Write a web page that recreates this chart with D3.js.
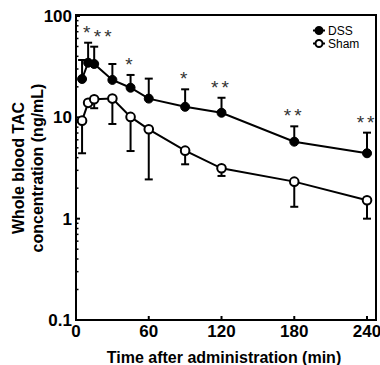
<!DOCTYPE html>
<html>
<head>
<meta charset="utf-8">
<script src="https://cdn.jsdelivr.net/npm/d3@7"></script>
<style>
  html, body { margin: 0; padding: 0; background: #fff; }
  svg { display: block; font-family: "Liberation Sans", Arial, sans-serif; }
</style>
</head>
<body>
<svg id="chart" width="380" height="365"></svg>
<script>
// ---- data ----
const times = [5, 10, 15, 30, 45, 60, 90, 120, 180, 240];
const dssMean = [23.9, 34.6, 33.6, 23.4, 19.6, 15.3, 12.7, 11.1, 5.75, 4.42];
const dssSD   = [12.9, 19.9, 16.2, 10.2, 6.6, 8.8, 6.2, 4.5, 2.4, 2.64];
const shamMean = [9.27, 13.9, 15.1, 15.3, 10.1, 7.62, 4.69, 3.14, 2.32, 1.52];
const shamSD   = [4.85, 0, 2.8, 6.7, 5.45, 5.18, 1.25, 0.5, 1.01, 0.52];
const signif = ["", "*", "**", "", "*", "", "*", "**", "**", "**"];
const xTicks = [0, 60, 120, 180, 240];
const yTicks = [0.1, 1, 10, 100];
const yTickLabels = ["0.1", "1", "10", "100"];
const seriesNames = ["DSS", "Sham"];
const xTitle = "Time after administration (min)";
const yTitle = ["Whole blood TAC", "concentration (ng/mL)"];

// ---- layout ----
const L = 76, R = 376, T = 16, B = 320;
const svg = d3.select("#chart");
const x = d3.scaleLinear().domain([0, 247.4]).range([L, R]);
const y = d3.scaleLog().domain([0.1, 100]).range([B, T]);

const dss = times.map((t, i) => ({ t, m: dssMean[i], sd: dssSD[i], s: signif[i] }));
const sham = times.map((t, i) => ({ t, m: shamMean[i], sd: shamSD[i] }));

// minor y ticks (inside)
const minor = [];
[0.1, 1, 10].forEach(d => { for (let k = 2; k <= 9; k++) minor.push(d * k); });
svg.append("g").selectAll("line").data(minor).join("line")
  .attr("x1", L).attr("x2", L + 2.5)
  .attr("y1", d => y(d)).attr("y2", d => y(d))
  .attr("stroke", "#000").attr("stroke-width", 1.5);

// major y ticks
svg.append("g").selectAll("line").data(yTicks).join("line")
  .attr("x1", L).attr("x2", L + 4)
  .attr("y1", d => y(d)).attr("y2", d => y(d))
  .attr("stroke", "#000").attr("stroke-width", 2);
// x ticks
svg.append("g").selectAll("line").data(xTicks).join("line")
  .attr("x1", d => x(d)).attr("x2", d => x(d))
  .attr("y1", B).attr("y2", B - 4)
  .attr("stroke", "#000").attr("stroke-width", 2);

// frame
svg.append("rect").attr("x", L).attr("y", T - 1).attr("width", R - L).attr("height", B - T + 1)
  .attr("fill", "none").attr("stroke", "#000").attr("stroke-width", 2);

// tick labels
svg.append("g").selectAll("text").data(yTicks).join("text")
  .attr("x", L - 4).attr("y", d => y(d)).attr("dy", "0.36em")
  .attr("text-anchor", "end").attr("font-size", 17).attr("font-weight", "bold")
  .text((d, i) => yTickLabels[i]);
svg.append("g").selectAll("text").data(xTicks).join("text")
  .attr("x", d => x(d)).attr("y", B + 17)
  .attr("text-anchor", "middle").attr("font-size", 17).attr("font-weight", "bold")
  .text(d => d);

// axis titles
svg.append("text").attr("x", (L + R) / 2 - 2).attr("y", 363)
  .attr("text-anchor", "middle").attr("font-size", 16).attr("font-weight", "bold")
  .text(xTitle);
const yt = svg.append("text").attr("transform", `translate(0,${(T + B) / 2}) rotate(-90)`)
  .attr("text-anchor", "middle").attr("font-size", 16).attr("font-weight", "bold");
yt.append("tspan").attr("x", 0).attr("y", 24).text(yTitle[0]);
yt.append("tspan").attr("x", 0).attr("y", 43).text(yTitle[1]);

// lines
const line = d3.line().x(d => x(d.t)).y(d => y(d.m));
svg.append("path").datum(sham).attr("d", line).attr("fill", "none").attr("stroke", "#000").attr("stroke-width", 2);
svg.append("path").datum(dss).attr("d", line).attr("fill", "none").attr("stroke", "#000").attr("stroke-width", 2);

// error bars
const cap = 4;
function bars(data, dir) {
  const g = svg.append("g").attr("stroke", "#000").attr("stroke-width", 2);
  data.filter(d => d.sd > 0).forEach(d => {
    const end = dir > 0 ? d.m + d.sd : d.m - d.sd;
    g.append("line").attr("x1", x(d.t)).attr("x2", x(d.t)).attr("y1", y(d.m)).attr("y2", y(end));
    g.append("line").attr("x1", x(d.t) - cap).attr("x2", x(d.t) + cap).attr("y1", y(end)).attr("y2", y(end));
  });
}
bars(dss, 1);
bars(sham, -1);

// markers
svg.append("g").selectAll("circle").data(sham).join("circle")
  .attr("cx", d => x(d.t)).attr("cy", d => y(d.m)).attr("r", 4.3)
  .attr("fill", "#fff").attr("stroke", "#000").attr("stroke-width", 2);
svg.append("g").selectAll("circle").data(dss).join("circle")
  .attr("cx", d => x(d.t)).attr("cy", d => y(d.m)).attr("r", 4.5)
  .attr("fill", "#000").attr("stroke", "#000").attr("stroke-width", 1);

// significance asterisks
svg.append("g").selectAll("text").data(dss.filter(d => d.s)).join("text")
  .attr("x", d => x(d.t) + (d.t === 15 ? 10 : 0))
  .attr("y", d => y(d.m + d.sd) - 4)
  .attr("text-anchor", "middle").attr("font-size", 19).attr("fill", "#333")
  .attr("letter-spacing", 3)
  .text(d => d.s);

// legend
const leg = svg.append("g");
seriesNames.forEach((name, i) => {
  const ly = 30.5 + i * 13;
  leg.append("line").attr("x1", 313).attr("x2", 325).attr("y1", ly).attr("y2", ly)
    .attr("stroke", "#000").attr("stroke-width", 2);
  leg.append("circle").attr("cx", 319).attr("cy", ly).attr("r", 3.5)
    .attr("fill", i === 0 ? "#000" : "#fff").attr("stroke", "#000").attr("stroke-width", 2);
  leg.append("text").attr("x", 328).attr("y", ly).attr("dy", "0.36em")
    .attr("font-size", 12).text(name);
});
</script>
</body>
</html>
